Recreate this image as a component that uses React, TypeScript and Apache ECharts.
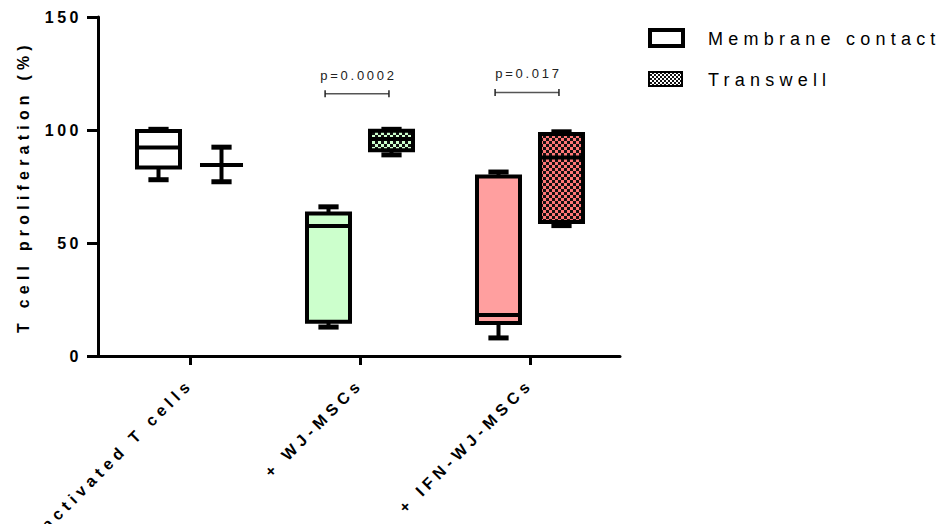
import React, { useEffect, useRef } from 'react';
import * as echarts from 'echarts';

const categories = ['activated T cells', '+ WJ-MSCs', '+ IFN-WJ-MSCs'];
const seriesNames = ['Membrane contact', 'Transwell'];
const yAxisTitle = 'T cell proliferation (%)';
// [min, Q1, median, Q3, max]
const membraneContact = [
  [78, 83.4, 92.3, 99.6, 100.3],
  [12.8, 15.2, 57.5, 63, 66],
  [8, 14.6, 18.1, 79.4, 81.4],
];
const transwell = [
  [77.1, 84.5, 84.5, 84.5, 92.4],
  [89, 91, 96, 99.7, 100.3],
  [57.7, 59.3, 87.8, 98.2, 99.2],
];
const pValues = [
  { group: 1, y: 116, label: 'p=0.0002' },
  { group: 2, y: 116.6, label: 'p=0.017' },
];

const FONT = 'Liberation Sans, Arial, Helvetica, sans-serif';
const OFF = 0.1853; // half distance between paired boxes (group units)
const BOX_W = 0.253;

const css = `
.chart-root svg text { letter-spacing: 0.3em; }
.chart-root svg text[style*="16px"] { letter-spacing: 0.22em; }
.chart-root svg text[style*="16.1px"] { letter-spacing: 0.3em; }
.chart-root svg text[style*="15.9px"] { letter-spacing: 0.33em; }
.chart-root svg text[style*="13px"] { letter-spacing: 0.21em; }
.chart-root svg text[style*="18px"] { letter-spacing: 0.29em; }
`;

export default function App() {
  const ref = useRef<HTMLDivElement>(null);
  useEffect(() => {
    const el = ref.current!;
    const chart = echarts.init(el, null, { renderer: 'svg', width: 941, height: 524 });

    const makeChecker = (a: string, b: string, cell: number) => {
      const c = document.createElement('canvas');
      c.width = cell * 2;
      c.height = cell * 2;
      const ctx = c.getContext('2d')!;
      ctx.fillStyle = a;
      ctx.fillRect(0, 0, cell * 2, cell * 2);
      ctx.fillStyle = b;
      ctx.fillRect(0, 0, cell, cell);
      ctx.fillRect(cell, cell, cell, cell);
      return { image: c, repeat: 'repeat', imageWidth: cell * 2, imageHeight: cell * 2 } as any;
    };
    const greenChecker = makeChecker('#ccffcc', '#111111', 3);
    const pinkChecker = makeChecker('#ff7676', '#141010', 3);
    const bwChecker = makeChecker('#ffffff', '#111111', 2);

    const mcFills: any[] = ['#ffffff', '#ccffcc', '#ff9f9f'];
    const twFills: any[] = ['#ffffff', greenChecker, pinkChecker];

    const makeBoxSeries = (name: string, data: number[][], offset: number, fills: any[]) => ({
      type: 'custom',
      name,
      clip: false,
      data: data.map((d, i) => [i, ...d]),
      encode: { x: 0, y: [1, 2, 3, 4, 5] },
      renderItem: (params: any, api: any) => {
        const g = api.value(0);
        const x = g + offset;
        const yv = [1, 2, 3, 4, 5].map((k) => api.coord([x, api.value(k)])[1]);
        const cx = api.coord([x, 0])[0];
        const bw = api.size([BOX_W, 0])[0];
        const capW = bw * 0.47;
        const [yMin, yQ1, yMed, yQ3, yMax] = yv;
        const black = '#000';
        return {
          type: 'group',
          children: [
            { type: 'line', shape: { x1: cx, y1: yMax, x2: cx, y2: yQ3 }, style: { stroke: black, lineWidth: 4 } },
            { type: 'line', shape: { x1: cx, y1: yQ1, x2: cx, y2: yMin }, style: { stroke: black, lineWidth: 4 } },
            { type: 'line', shape: { x1: cx - capW / 2, y1: yMax, x2: cx + capW / 2, y2: yMax }, style: { stroke: black, lineWidth: 5 } },
            { type: 'line', shape: { x1: cx - capW / 2, y1: yMin, x2: cx + capW / 2, y2: yMin }, style: { stroke: black, lineWidth: 5 } },
            {
              type: 'rect',
              shape: { x: cx - bw / 2, y: yQ3, width: bw, height: Math.max(yQ1 - yQ3, 0) },
              style: { fill: fills[g], stroke: black, lineWidth: 4 },
            },
            { type: 'line', shape: { x1: cx - bw / 2, y1: yMed, x2: cx + bw / 2, y2: yMed }, style: { stroke: black, lineWidth: 4 } },
          ],
        };
      },
    });

    const bracketSeries = {
      type: 'custom',
      name: 'p',
      clip: false,
      silent: true,
      data: pValues.map((p) => [p.group, p.y]),
      encode: { x: 0, y: 1 },
      renderItem: (params: any, api: any) => {
        const g = api.value(0);
        const yv = api.value(1);
        const [x1, y] = api.coord([g - OFF - 0.02, yv]);
        const x2 = api.coord([g + OFF - 0.015, yv])[0];
        const col = '#555';
        return {
          type: 'group',
          children: [
            { type: 'line', shape: { x1, y1: y, x2, y2: y }, style: { stroke: col, lineWidth: 1.5 } },
            { type: 'line', shape: { x1, y1: y - 3.5, x2: x1, y2: y + 3.5 }, style: { stroke: '#222', lineWidth: 1.5 } },
            { type: 'line', shape: { x1: x2, y1: y - 3.5, x2, y2: y + 3.5 }, style: { stroke: '#222', lineWidth: 1.5 } },
            {
              type: 'text',
              style: {
                text: pValues[params.dataIndex].label,
                x: (x1 + x2) / 2 + 1.5,
                y: y - 18.5,
                align: 'center',
                verticalAlign: 'middle',
                fontSize: 13,
                fontFamily: FONT,
                fill: '#222',
              },
            },
          ],
        };
      },
    };

    const option: any = {
      animation: false,
      backgroundColor: '#ffffff',
      grid: { left: 98, right: 321, top: 17, bottom: 168, containLabel: false },
      xAxis: {
        type: 'value',
        min: -0.5412,
        max: 2.5294,
        splitLine: { show: false },
        axisLine: { show: true, onZero: false, lineStyle: { color: '#000', width: 3 } },
        axisTick: { show: true, length: 9, lineStyle: { color: '#000', width: 3 }, customValues: [0, 1, 2] },
        axisLabel: {
          show: true,
          customValues: [0, 1, 2],
          formatter: (v: number) => categories[Math.round(v)] ?? '',
          rotate: 45,
          margin: 25,
          fontSize: 16.1,
          fontWeight: 'bold',
          fontFamily: FONT,
          color: '#000',
        },
      },
      yAxis: {
        type: 'value',
        min: 0,
        max: 150,
        interval: 50,
        name: yAxisTitle,
        nameLocation: 'middle',
        nameGap: 67,
        nameTextStyle: { fontSize: 15.9, fontWeight: 'bold', fontFamily: FONT, color: '#000' },
        splitLine: { show: false },
        axisLine: { show: true, onZero: false, lineStyle: { color: '#000', width: 3 } },
        axisTick: { show: true, length: 11, lineStyle: { color: '#000', width: 3 } },
        axisLabel: { fontSize: 16, fontWeight: 'bold', fontFamily: FONT, color: '#000', margin: 16 },
      },
      graphic: [
        { type: 'rect', shape: { x: 650, y: 30, width: 33, height: 16 }, style: { fill: '#fff', stroke: '#000', lineWidth: 4 } },
        { type: 'text', x: 708, y: 39, style: { text: seriesNames[0], fontSize: 18, fontFamily: FONT, fill: '#000', verticalAlign: 'middle' } },
        { type: 'rect', shape: { x: 649, y: 72, width: 33, height: 14 }, style: { fill: bwChecker, stroke: '#000', lineWidth: 2 } },
        { type: 'text', x: 708, y: 80, style: { text: seriesNames[1], fontSize: 18, fontFamily: FONT, fill: '#000', verticalAlign: 'middle' } },
      ],
      series: [
        makeBoxSeries(seriesNames[0], membraneContact, -OFF, mcFills),
        makeBoxSeries(seriesNames[1], transwell, OFF, twFills),
        bracketSeries,
      ],
    };
    chart.setOption(option);
    return () => chart.dispose();
  }, []);
  return (
    <div style={{ position: 'absolute', left: 0, top: 0 }}>
      <style>{css}</style>
      <div ref={ref} className="chart-root" style={{ width: 941, height: 524 }} />
    </div>
  );
}
